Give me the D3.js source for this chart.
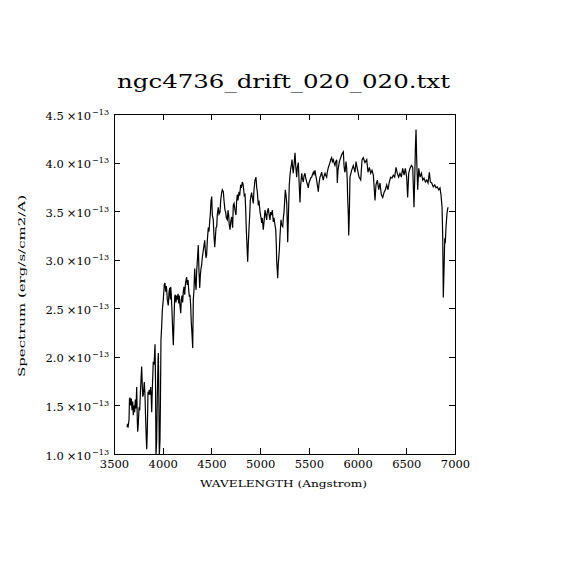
<!DOCTYPE html>
<html>
<head>
<meta charset="utf-8">
<script src="https://cdn.jsdelivr.net/npm/d3@7"></script>
<style>
	body { margin: 0; background: #fff; }
	text { font-family: "DejaVu Serif", serif; fill: #000; }
</style>
</head>
<body>
<script>
// wavelength in Angstrom, flux in units of 1e-13 erg/s/cm2/A
const wavelength = [
	3633,3639,3644,3654,3659,3664,3671,3678,3685,3692,3698,3705,3712,3719,3726,3733,3739,3743,3749,3757,
	3764,3770,3777,3784,3790,3795,3801,3811,3818,3825,3832,3836,3842,3849,3856,3862,3870,3877,3883,3887,
	3893,3900,3903,3911,3918,3921,3926,3931,3938,3944,3952,3955,3959,3965,3972,3977,3982,3990,3996,
	4006,4016,4023,4031,4037,4041,4047,4057,4065,4072,4078,4082,4088,4095,4102,4109,4116,4123,4129,4136,
	4144,4150,4157,4164,4170,4177,4185,4191,4198,4205,4211,4218,4226,4232,4239,4246,4252,4260,4267,4273,
	4280,4287,4293,4301,4308,4314,4321,4328,4334,4342,4349,4355,4365,4372,4380,4386,4393,4400,4406,4417,
	4424,4431,4437,4444,4451,4458,4468,4475,4482,4488,4496,4503,4509,4519,4526,4534,4540,4547,4554,4560,
	4570,4578,4588,4595,4605,4612,4622,4629,4639,4646,4653,4663,4670,4677,4683,4691,4698,4708,4714,4718,
	4724,4732,4742,4752,4759,4766,4773,4783,4790,4800,4807,4817,4824,4831,4837,4845,4852,4858,4865,4872,
	4878,4886,4893,4899,4906,4913,4920,4930,4937,4947,4957,4965,4971,4981,4988,4999,
	5006,5016,5022,5032,5040,5050,5057,5067,5073,5084,5091,5101,5108,5119,5125,5135,5142,5152,5160,5166,
	5170,5176,5180,5186,5197,5204,5214,5221,5232,5238,5245,5252,5258,5265,5273,5279,5283,5289,5299,5306,
	5314,5320,5327,5334,5340,5347,5358,5365,5375,5381,5392,5399,5409,5416,5427,5433,5443,5450,5460,5468,
	5478,5484,5494,5501,5512,5519,5529,5535,5546,5553,5563,5570,5580,5587,5597,5604,5614,5622,5632,5638,
	5648,5655,5666,5673,5683,5689,5700,5707,5717,5724,5734,5741,5751,5758,5768,5776,5786,5792,5799,5813,
	5820,5830,5837,5847,5854,5861,5868,5874,5881,5888,5894,5898,5905,5909,5915,5922,5939,5956,5974,5984,
	5997,6015,6032,6046,6059,6076,6094,6107,6121,6135,6148,6162,6172,6179,6189,6203,6217,6230,6244,6258,
	6271,6285,6299,6312,6326,6340,6353,6367,6381,6394,6408,6422,6435,6449,6463,6477,6490,6504,6514,6525,
	6538,6552,6566,6579,6587,6593,6600,6607,6617,6628,6641,6655,6669,6682,6696,6710,6723,6737,6747,6761,
	6777,6792,6805,6818,6833,6846,6856,6867,6874,6880,6887,6895,6900,6908,6918,6928
];

const flux = [
	1.28,1.31,1.27,1.35,1.56,1.58,1.50,1.57,1.45,1.54,1.40,1.50,1.43,1.56,1.47,1.69,1.35,1.23,1.30,1.48,
	1.45,1.61,1.76,1.90,1.71,1.59,1.61,1.74,1.61,1.35,1.14,1.05,1.25,1.64,1.61,1.66,1.61,1.69,1.56,1.43,
	1.66,1.86,1.95,1.92,2.07,2.13,1.76,0.98,1.14,1.56,1.97,2.04,1.76,0.98,1.14,1.56,2.17,2.33,2.48,
	2.59,2.74,2.76,2.67,2.73,2.69,2.59,2.53,2.67,2.71,2.59,2.72,2.64,2.48,2.28,2.12,2.38,2.62,2.64,2.56,
	2.63,2.59,2.65,2.55,2.63,2.53,2.45,2.59,2.63,2.56,2.67,2.72,2.64,2.74,2.79,2.82,2.74,2.79,2.69,2.62,
	2.64,2.53,2.36,2.23,2.09,2.59,2.69,2.91,2.79,2.69,2.89,2.98,3.15,2.89,2.71,2.84,2.91,2.95,3.02,3.10,
	3.15,3.20,3.10,3.02,3.05,3.20,3.33,3.29,3.39,3.46,3.61,3.65,3.46,3.41,3.25,3.13,3.22,3.33,3.34,3.46,
	3.54,3.47,3.49,3.61,3.69,3.72,3.70,3.61,3.51,3.49,3.43,3.41,3.51,3.46,3.36,3.31,3.39,3.44,3.36,3.33,
	3.56,3.58,3.51,3.46,3.61,3.67,3.61,3.70,3.66,3.77,3.74,3.80,3.78,3.72,3.66,3.67,3.51,3.31,3.15,2.98,
	3.15,3.33,3.46,3.61,3.66,3.69,3.64,3.58,3.72,3.82,3.85,3.74,3.70,3.56,3.61,3.49,
	3.45,3.38,3.43,3.31,3.39,3.51,3.47,3.41,3.49,3.53,3.47,3.41,3.49,3.46,3.51,3.39,3.43,3.36,3.31,3.15,
	2.98,2.89,2.81,2.95,3.10,3.25,3.41,3.36,3.34,3.43,3.49,3.61,3.72,3.67,3.58,3.36,3.18,3.41,3.77,3.87,
	3.94,3.97,4.03,3.94,3.89,3.97,4.10,3.97,3.85,3.94,4.00,3.82,3.59,3.77,3.89,3.84,3.80,3.86,3.89,3.84,
	3.80,3.78,3.74,3.79,3.82,3.84,3.85,3.87,3.90,3.88,3.92,3.87,3.82,3.77,3.70,3.78,3.85,3.87,3.90,3.86,
	3.82,3.86,3.89,3.87,3.85,3.90,3.95,3.97,4.00,4.03,4.05,4.01,4.03,4.00,3.97,4.01,4.03,3.79,3.92,4.01,
	4.03,4.06,4.08,4.10,4.11,3.97,3.90,3.92,4.01,3.95,3.82,3.65,3.46,3.25,3.44,3.85,3.92,3.97,3.90,4.01,
	3.94,3.85,3.82,4.03,4.05,4.00,4.03,3.90,3.95,3.89,3.92,3.87,3.72,3.61,3.77,3.82,3.72,3.79,3.67,3.64,
	3.69,3.72,3.77,3.72,3.80,3.85,3.84,3.87,3.85,3.95,3.89,3.85,3.89,3.85,3.94,3.87,3.94,3.85,3.64,3.89,
	3.94,3.97,3.95,3.54,3.85,4.13,4.34,4.03,3.72,3.94,3.85,3.89,3.82,3.84,3.80,3.82,3.79,3.90,3.80,3.79,
	3.75,3.77,3.74,3.75,3.72,3.74,3.67,3.54,3.23,2.61,2.89,3.22,3.17,3.34,3.48,3.54
];

const xTicks = [3500, 4000, 4500, 5000, 5500, 6000, 6500, 7000];
const yTicks = [1.0, 1.5, 2.0, 2.5, 3.0, 3.5, 4.0, 4.5];
const yTickLabels = ['1.0', '1.5', '2.0', '2.5', '3.0', '3.5', '4.0', '4.5'];
const yExponent = '\u221213';

const margin = {top: 114, right: 115, bottom: 116, left: 114};
const svgSize = {width: 570, height: 570};
const chartSize = {width: svgSize.width - margin.left - margin.right, height: svgSize.height - margin.top - margin.bottom};

const svg = d3.select('body').append('svg')
	.attr('width', svgSize.width)
	.attr('height', svgSize.height);

const x = d3.scaleLinear().domain([3500, 7000]).range([0, chartSize.width]);
const y = d3.scaleLinear().domain([1.0, 4.5]).range([chartSize.height, 0]);

const chart = svg.append('g')
	.attr('transform', `translate(${margin.left}, ${margin.top})`);

chart.append('clipPath')
	.attr('id', 'plot-clip')
	.append('rect')
	.attr('width', chartSize.width)
	.attr('height', chartSize.height);

const n = Math.min(wavelength.length, flux.length);
const line = d3.line()
	.x((i) => x(wavelength[i]))
	.y((i) => y(flux[i]));

chart.append('path')
	.datum(d3.range(n))
	.attr('clip-path', 'url(#plot-clip)')
	.attr('fill', 'none')
	.attr('stroke', '#000')
	.attr('stroke-width', 1.2)
	.attr('stroke-linejoin', 'miter')
	.attr('d', line);

function styleAxis(g) {
	g.attr('font-family', null).attr('font-size', null);
	g.selectAll('.domain, line').attr('stroke', '#000').attr('shape-rendering', 'crispEdges');
}

chart.append('g')
	.attr('transform', `translate(0, ${chartSize.height})`)
	.call(d3.axisBottom(x).tickValues(xTicks).tickSizeInner(-6).tickSizeOuter(0).tickPadding(6).tickFormat(d3.format('d')))
	.call(styleAxis)
	.selectAll('text').attr('font-size', 11.5);

chart.append('g')
	.call(d3.axisTop(x).tickValues(xTicks).tickSizeInner(-6).tickSizeOuter(0).tickFormat(''))
	.call(styleAxis);

chart.append('g')
	.attr('transform', `translate(${chartSize.width}, 0)`)
	.call(d3.axisRight(y).tickValues(yTicks).tickSizeInner(-6).tickSizeOuter(0).tickFormat(''))
	.call(styleAxis);

const leftAxis = chart.append('g')
	.call(d3.axisLeft(y).tickValues(yTicks).tickSizeInner(-6).tickSizeOuter(0).tickFormat(''))
	.call(styleAxis);

const yLabel = leftAxis.selectAll('.tick')
	.append('text')
	.attr('x', -5)
	.attr('y', 5)
	.attr('text-anchor', 'end')
	.attr('font-size', 11.5);

yLabel.append('tspan').text((d, i) => yTickLabels[i]);
yLabel.append('tspan').attr('dx', 3).text('\u00d710');
yLabel.append('tspan').attr('dy', -5).attr('dx', 1).attr('font-size', 8).text(yExponent);

svg.append('text')
	.attr('x', 283.5)
	.attr('y', 88)
	.attr('text-anchor', 'middle')
	.attr('font-size', 19)
	.attr('textLength', 333)
	.attr('lengthAdjust', 'spacingAndGlyphs')
	.text('ngc4736_drift_020_020.txt');

svg.append('text')
	.attr('x', 283.5)
	.attr('y', 487)
	.attr('text-anchor', 'middle')
	.attr('font-size', 10)
	.attr('textLength', 167)
	.attr('lengthAdjust', 'spacingAndGlyphs')
	.text('WAVELENGTH (Angstrom)');

svg.append('text')
	.attr('transform', 'translate(25, 286) rotate(-90)')
	.attr('text-anchor', 'middle')
	.attr('font-size', 10)
	.attr('textLength', 182)
	.attr('lengthAdjust', 'spacingAndGlyphs')
	.text('Spectrum (erg/s/cm2/A)');
</script>
</body>
</html>
